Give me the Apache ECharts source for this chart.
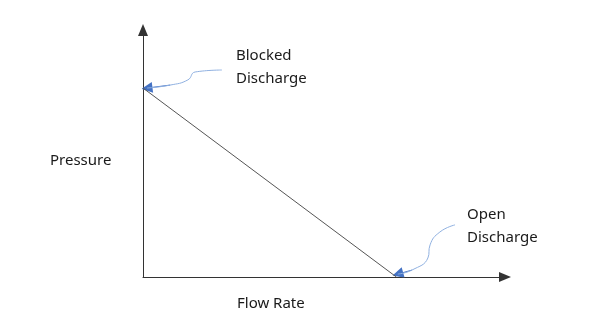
<!DOCTYPE html>
<html><head><meta charset="utf-8">
<script src="https://cdn.jsdelivr.net/npm/echarts@6/dist/echarts.min.js"></script>
<style>html,body{margin:0;padding:0;background:#fff}#c{width:600px;height:329px}</style>
</head><body><div id="c"></div>
<script>
// Data (normalized flow / pressure)
const flowRate = [0, 70];
const pressure = [76.5, 0];
const annotationTexts = ['Blocked\nDischarge', 'Open\nDischarge'];
const blockedCurve = [[21.8, 83.8], [14.4, 83.0], [12.4, 79.8], [7.5, 77.7], [1.1, 76.5]];
const openCurve = [[86.2, 21.1], [82.0, 18.2], [79.3, 13.0], [78.7, 7.7], [74.3, 2.8], [70.4, 1.2]];

const FONT = 'Noto Sans';
const chart = echarts.init(document.getElementById('c'));
const axisCommon = {
  type: 'value', min: 0, max: 100,
  axisLine: { show: true, lineStyle: { color: '#333', width: 1 }, symbol: ['none', 'triangle'], symbolSize: [10, 12] },
  axisTick: { show: false }, axisLabel: { show: false }, splitLine: { show: false }
};
const txt = (text, left, top) => ({ type: 'text', left, top, style: { text, font: '15px "' + FONT + '"', fill: '#1a1a1a', lineHeight: 23 } });
const curveSeries = pts => ({ type: 'line', data: pts, smooth: 0.5, symbol: 'none', lineStyle: { color: '#8fb0e0', width: 1 } });
const arrowSeries = pts => ({
  type: 'lines', coordinateSystem: 'cartesian2d', symbol: ['none', 'triangle'], symbolSize: [9, 11],
  lineStyle: { color: '#4472c4', width: 1, curveness: 0, opacity: 1 },
  data: [{ coords: pts.slice(-2) }]
});
chart.setOption({
  animation: false,
  grid: { left: 143, right: 95, top: 30, bottom: 52 },
  xAxis: Object.assign({}, axisCommon),
  yAxis: Object.assign({}, axisCommon),
  graphic: [
    txt(annotationTexts[0], 236, 44),
    txt(annotationTexts[1], 467, 203),
    txt('Pressure', 50, 149),
    txt('Flow Rate', 237, 292)
  ],
  series: [
    { type: 'line', data: flowRate.map((x, i) => [x, pressure[i]]), symbol: 'none', lineStyle: { color: '#555', width: 1 } },
    curveSeries(blockedCurve), curveSeries(openCurve),
    arrowSeries(blockedCurve), arrowSeries(openCurve)
  ]
});
</script></body></html>
